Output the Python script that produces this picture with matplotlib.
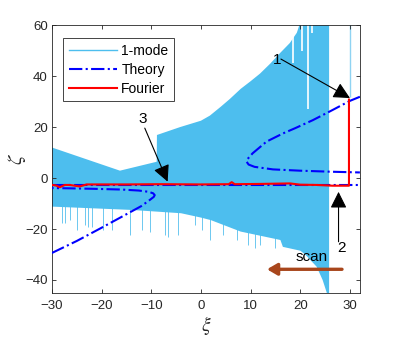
import matplotlib.pyplot as plt
from matplotlib.lines import Line2D

plt.rcParams['font.family'] = ['Liberation Sans', 'DejaVu Sans']
plt.rcParams['mathtext.fontset'] = 'stix'

# 1-mode band: upper and lower envelope
top_xi = [-30, -16.3, -8.9, -8.85, -4.2, 0, 1.8, 4, 5.8, 8, 10, 11.9, 14, 15.9, 17.9, 19.3, 19.9, 25.8]
top_zeta = [12, 2.9, 6.4, 16.9, 20, 22.5, 24.5, 28, 31, 35, 38, 41, 45, 49, 53, 57, 60.5, 62]
low_xi = [-30, -14, -4, 0, 2, 8, 16, 16.5, 20, 21, 23.3, 24.5, 25.5, 25.8]
low_zeta = [-11.2, -12.5, -13.8, -15.5, -16.5, -21, -24.3, -27, -28.5, -30, -34.8, -40, -46, -46]

# downward spikes of the 1-mode signal
spike_xi = [-28.0, -27.4, -26.4, -25.0, -23.4, -22.8, -22.0, -19.7, -17.9, -14.3, -11.9,
            -10.3, -7.3, -6.7, -4.6, -1.2, 0.2, 1.8, 4.4, 7.2, 9.4, 10.8, 11.9, 14.9]
spike_low = [-17.6, -17.6, -16.5, -20.4, -18.4, -19.2, -19.2, -20.4, -20.4, -22.4, -20.4,
             -21.2, -22.4, -23.1, -22.4, -18.4, -20.4, -24.3, -22.4, -24.3, -26.3, -27.5, -26.3, -27.5]
# upward spike past the band edge
up_xi = [30.0]
up_low = [31.8]
# white gaps inside the band near the top
gap_xi = [18.5, 20.3, 21.5, 22.3]
gap_lo = [45, 50, 27, 57]
gap_hi = [57, 61, 61, 61]

# theory curves
theo_left_xi = [-30, -25, -20, -15, -12, -10.3, -9.5, -9.3, -9.6, -10.5, -12.5, -16, -22, -30]
theo_left_zeta = [-29.4, -24.7, -19.5, -14.2, -11.0, -8.6, -7.4, -6.7, -6.0, -5.4, -4.9, -4.5, -4.2, -3.9]
theo_flat_xi = [-30, 32]
theo_flat_zeta = [-2.9, -2.9]
theo_right_xi = [32, 30, 26, 22.5, 19, 16.5, 13.2, 10.4, 9.4, 9.2, 9.6, 10.8, 14.5, 19.9, 26, 32]
theo_right_zeta = [31.9, 30.3, 26.2, 22.7, 19.6, 17.5, 14.3, 9.7, 7.5, 6.4, 5.3, 4.4, 3.4, 2.9, 2.5, 2.2]

# Fourier
fourier_xi = [-30, -29.2, -28.4, -27.4, -26.4, -24.4, -23.0, -15, -8, 0, 5.6, 6.2, 6.8,
              12, 17.9, 20, 23.3, 26.5, 29.8, 29.8]
fourier_zeta = [-2.7, -2.9, -3.6, -2.7, -2.7, -3.3, -2.5, -2.5, -2.4, -2.5, -2.4, -1.6, -2.4,
                -2.3, -2.1, -2.6, -2.7, -3.0, -3.0, 30.8]

band_color = '#4DBEEE'
axis_color = '#262626'

fig = plt.figure(figsize=(3.99, 3.4), dpi=100)
ax = fig.add_axes([0.130, 0.139, 0.772, 0.787])

ax.fill(top_xi + low_xi[::-1], top_zeta + low_zeta[::-1], color=band_color, lw=0, zorder=1)
ax.vlines(spike_xi, spike_low, -8, color='#6CC8F0', lw=0.7, zorder=0.9)
ax.vlines(up_xi, up_low, 61, color='#8FD3F2', lw=1.0, zorder=1)
ax.vlines(gap_xi, gap_lo, gap_hi, color='white', lw=1.2, zorder=1.5)

ax.plot(theo_left_xi, theo_left_zeta, '-.', color='#0000FF', lw=1.5, zorder=3)
ax.plot(theo_flat_xi, theo_flat_zeta, '-.', color='#0000FF', lw=1.5, zorder=3)
ax.plot(theo_right_xi, theo_right_zeta, '-.', color='#0000FF', lw=1.5, zorder=3)
ax.plot(fourier_xi, fourier_zeta, '-', color='#FF0000', lw=1.5, zorder=4)

arrow_kw = dict(arrowstyle='-|>,head_length=1.0,head_width=0.5', color='black', lw=0.8,
                shrinkA=0, shrinkB=0)
ax.annotate('', xy=(30.0, 31.4), xytext=(16.1, 46.7), arrowprops=arrow_kw, zorder=6)
ax.annotate('', xy=(-6.7, -1.4), xytext=(-11.3, 19.6), arrowprops=arrow_kw, zorder=6)
ax.annotate('', xy=(27.7, -5.4), xytext=(27.7, -25), arrowprops=arrow_kw, zorder=6)
ax.annotate('', xy=(13.3, -35.8), xytext=(28.4, -35.8),
            arrowprops=dict(arrowstyle='-|>,head_length=0.6,head_width=0.35',
                            color='#A8461C', lw=2.4, shrinkA=0, shrinkB=0), zorder=6)
ax.text(15.3, 46.3, '1', fontsize=11, ha='center', va='center', zorder=7)
ax.text(-11.7, 23.0, '3', fontsize=11, ha='center', va='center', zorder=7)
ax.text(28.3, -27.3, '2', fontsize=11, ha='center', va='center', zorder=7)
ax.text(22.3, -31.0, 'scan', fontsize=11, ha='center', va='center', zorder=7)

ax.set_xlim(-30, 32)
ax.set_ylim(-45, 60)
ax.set_xticks([-30, -20, -10, 0, 10, 20, 30])
ax.set_yticks([-40, -20, 0, 20, 40, 60])
ax.tick_params(direction='in', top=True, right=True, length=3, width=0.6,
               color=axis_color, labelcolor=axis_color, labelsize=9.5)
ax.tick_params(axis='x', pad=5)
ax.tick_params(axis='y', pad=3)
for s in ax.spines.values():
    s.set_color(axis_color)
    s.set_linewidth(0.6)

ax.set_xlabel(r'$\xi$', fontsize=14, color=axis_color, labelpad=2)
ax.set_ylabel(r'$\zeta$', fontsize=15, color=axis_color, labelpad=-2)

handles = [Line2D([], [], color=band_color, lw=1),
           Line2D([], [], color='#0000FF', lw=1.5, ls='-.'),
           Line2D([], [], color='#FF0000', lw=1.5)]
leg = ax.legend(handles, ['1-mode', 'Theory', 'Fourier'], loc='upper left',
                bbox_to_anchor=(0.036, 0.951), borderaxespad=0, fontsize=10,
                handlelength=3.5, fancybox=False, framealpha=1, edgecolor=axis_color,
                labelspacing=0.35, borderpad=0.4, handletextpad=0.3)
leg.get_frame().set_linewidth(0.6)
leg.set_zorder(8)

fig.savefig('out.png', dpi=100)
